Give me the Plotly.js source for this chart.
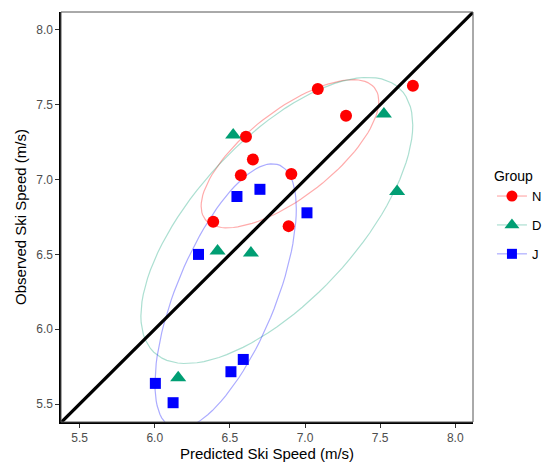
<!DOCTYPE html>
<html>
<head>
<meta charset="utf-8">
<script src="https://cdn.plot.ly/plotly-3.0.1.min.js"></script>
<style>html,body{margin:0;padding:0;background:#fff}#chart{width:548px;height:462px}</style>
</head>
<body>
<div id="chart"></div>
<script>
// ---- data ----
const groups = ["N", "D", "J"];
const nPredicted = [7.085, 7.718, 7.273, 6.607, 6.653, 6.573, 6.909, 6.389, 6.891];
const nObserved  = [7.605, 7.627, 7.427, 7.287, 7.135, 7.029, 7.038, 6.718, 6.689];
const dPredicted = [7.525, 6.522, 7.613, 6.418, 6.640, 6.156];
const dObserved  = [7.438, 7.298, 6.920, 6.522, 6.509, 5.675];
const jPredicted = [6.700, 6.547, 7.013, 6.291, 6.589, 6.507, 6.004, 6.122];
const jObserved  = [6.935, 6.887, 6.778, 6.500, 5.798, 5.716, 5.638, 5.509];
const xTicks = [5.5, 6.0, 6.5, 7.0, 7.5, 8.0];
const yTicks = [5.5, 6.0, 6.5, 7.0, 7.5, 8.0];
const ellipseLevel = 0.6;

// ---- normal-theory data ellipse (like stat_ellipse type "norm") ----
function ellipse(xs, ys, level, segments) {
  const n = xs.length;
  const mx = xs.reduce((a,b)=>a+b,0)/n, my = ys.reduce((a,b)=>a+b,0)/n;
  let sxx=0, sxy=0, syy=0;
  for (let i=0;i<n;i++){const dx=xs[i]-mx, dy=ys[i]-my; sxx+=dx*dx; sxy+=dx*dy; syy+=dy*dy;}
  sxx/=(n-1); sxy/=(n-1); syy/=(n-1);
  const d = n - 1;
  const qf = (d/2)*(Math.pow(1-level, -2/d) - 1);   // F(2, d) quantile
  const r = Math.sqrt(2*qf);
  const a = Math.sqrt(sxx), b = sxy/a, c = Math.sqrt(syy-b*b);  // Cholesky
  const ex=[], ey=[];
  for (let k=0;k<=segments;k++){
    const t = k*2*Math.PI/segments;
    ex.push(mx + r*Math.cos(t)*a);
    ey.push(my + r*(Math.cos(t)*b + Math.sin(t)*c));
  }
  return {x: ex, y: ey};
}

const colors = {N: "#FF0000", D: "#009E73", J: "#0000FF"};
const lightColors = {N: "rgba(255,0,0,0.33)", D: "rgba(0,158,115,0.33)", J: "rgba(0,0,255,0.33)"};
const symbols = {N: "circle", D: "triangle-up", J: "square"};
const sizes = {N: 12, D: 14, J: 11};
const dataSets = {N: [nPredicted, nObserved], D: [dPredicted, dObserved], J: [jPredicted, jObserved]};

const traces = [];
groups.forEach(g=>{
  const e = ellipse(dataSets[g][0], dataSets[g][1], ellipseLevel, 100);
  traces.push({x: e.x, y: e.y, mode: "lines", line: {color: lightColors[g], width: 1.2}, showlegend: false, hoverinfo: "skip"});
});
groups.forEach(g=>{
  traces.push({x: dataSets[g][0], y: dataSets[g][1], mode: "markers",
    marker: {symbol: symbols[g], color: colors[g], size: sizes[g]}, showlegend: false});
});
// identity line (y = x)
traces.push({x: [5, 9], y: [5, 9], mode: "lines", line: {color: "#000", width: 3.2}, showlegend: false, hoverinfo: "skip"});
// legend keys
groups.forEach(g=>{
  traces.push({x: [null], y: [null], mode: "lines+markers", name: g, legendgroup: g,
    line: {color: lightColors[g], width: 1.2},
    marker: {symbol: symbols[g], color: colors[g], size: sizes[g]-1}});
});

const layout = {
  width: 548, height: 462,
  margin: {l: 61, r: 75, t: 12, b: 40, autoexpand: false},
  paper_bgcolor: "#fff", plot_bgcolor: "#fff",
  font: {family: "Liberation Sans, Arial, sans-serif", color: "#000"},
  showlegend: true,
  legend: {x: 1.046, xanchor: "left", y: 0.632, yanchor: "top",
    title: {text: "Group", font: {size: 14, color: "#000"}},
    font: {size: 13, color: "#000"}, tracegroupgap: 9, itemwidth: 30},
  xaxis: {range: [5.376, 8.118], tickvals: xTicks, ticktext: xTicks.map(v=>v.toFixed(1)),
    showgrid: false, zeroline: false, showline: true, linecolor: "#000", linewidth: 1.6, mirror: false,
    ticks: "outside", ticklen: 4, tickcolor: "#333", tickwidth: 1,
    tickfont: {size: 12, color: "#4D4D4D"},
    title: {text: "Predicted Ski Speed (m/s)", font: {size: 15, color: "#000"}, standoff: 4}},
  yaxis: {range: [5.38, 8.12], tickvals: yTicks, ticktext: yTicks.map(v=>v.toFixed(1)),
    showgrid: false, zeroline: false, showline: true, linecolor: "#000", linewidth: 1.6, mirror: false,
    ticks: "outside", ticklen: 4, tickcolor: "#333", tickwidth: 1,
    tickfont: {size: 12, color: "#4D4D4D"},
    title: {text: "Observed Ski Speed (m/s)", font: {size: 15, color: "#000"}, standoff: 6}},
  shapes: [{type: "rect", xref: "paper", yref: "paper", x0: 0, y0: 0, x1: 1, y1: 1,
    line: {color: "#555", width: 1}}]
};
Plotly.newPlot("chart", traces, layout, {displayModeBar: false, staticPlot: true});
</script>
</body>
</html>
